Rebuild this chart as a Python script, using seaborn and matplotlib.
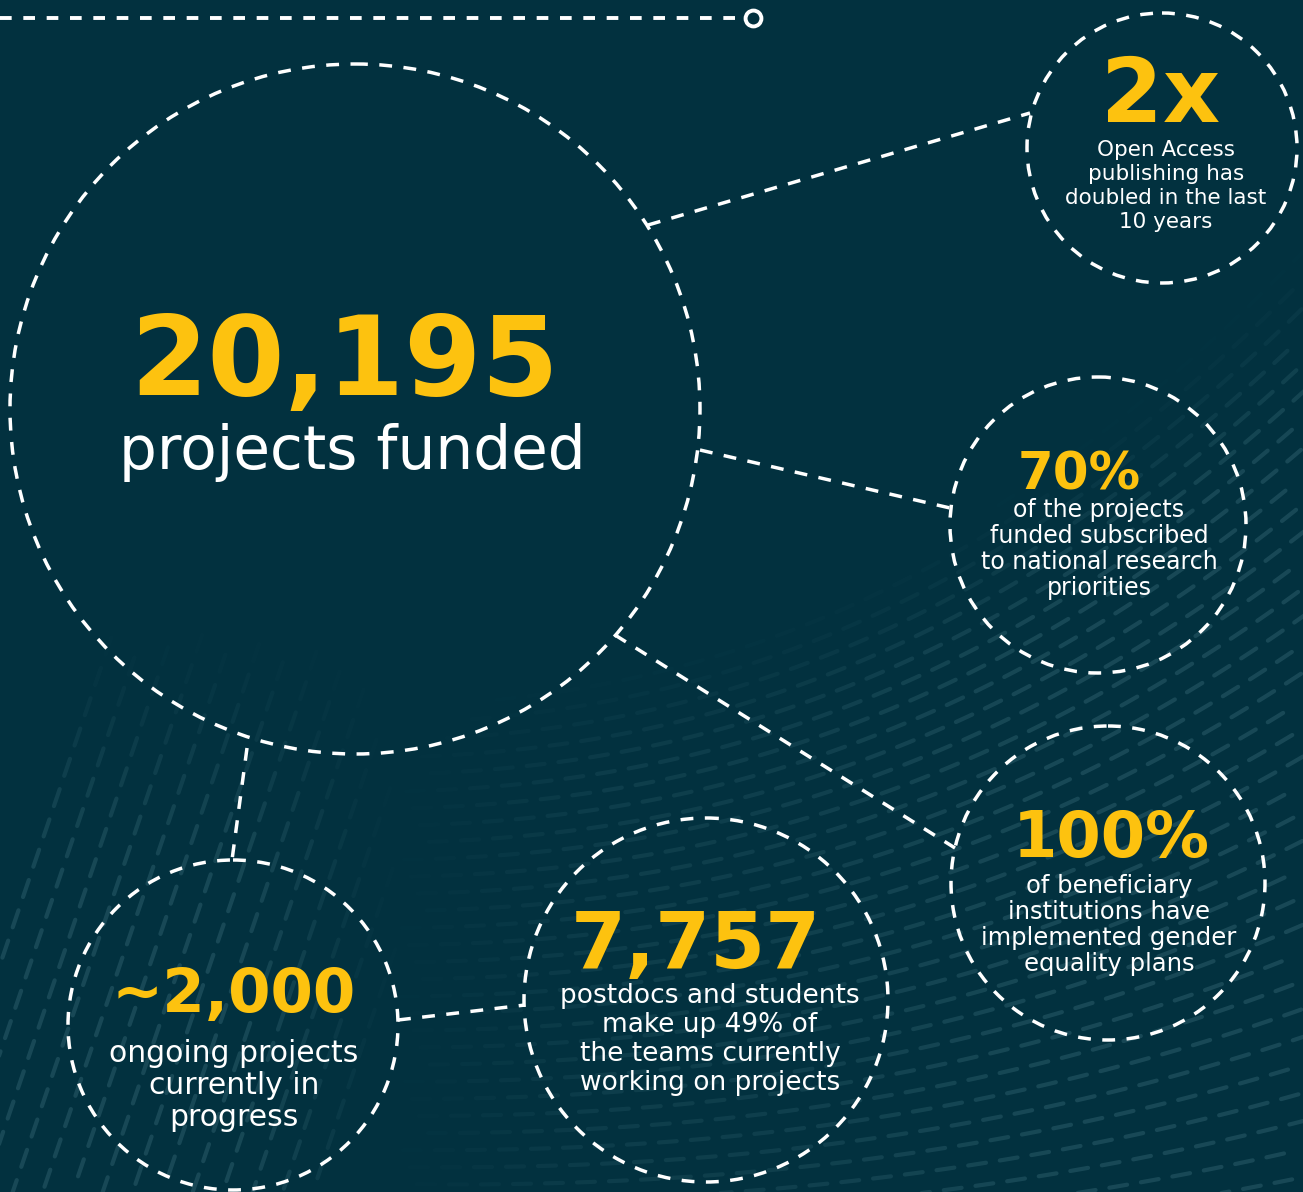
import numpy as np
import matplotlib.pyplot as plt
import seaborn as sns
from matplotlib.patches import Circle
from matplotlib.collections import LineCollection

# --- stats shown in the bubbles ---
stat_values = ["20,195", "2x", "70%", "100%", "7,757", "~2,000"]
stat_captions = [
    ["projects funded"],
    ["Open Access", "publishing has", "doubled in the last", "10 years"],
    ["of the projects", "funded subscribed", "to national research", "priorities"],
    ["of beneficiary", "institutions have", "implemented gender", "equality plans"],
    ["postdocs and students", "make up 49% of", "the teams currently", "working on projects"],
    ["ongoing projects", "currently in", "progress"],
]

# layout (pixel space): circle centre x, y, radius
circ_x = [355, 1162, 1098, 1108, 706, 233]
circ_y = [409, 148, 525, 883, 1000, 1025]
circ_r = [345, 135, 148, 157, 182, 165]
# value text: x, baseline y, size ; caption: x, first y, step, size
val_pos = [(345, 395, 80), (1161, 122, 64), (1079, 490, 37), (1111, 857, 46), (696, 968, 57), (234, 1012, 44)]
cap_pos = [(352, 453, 0, 43), (1166, 150, 24, 15.5), (1099, 510, 26, 17), (1109, 886, 26, 17.5),
           (710, 996, 29, 19), (234, 1053, 32, 21.5)]

# connectors between bubbles
links = [((648, 225), (1030, 113)), ((700, 450), (950, 508)), ((615, 635), (955, 848)),
         ((247, 748), (232, 860)), ((398, 1020), (525, 1005))]

BG = "#02313f"
YEL = "#fdc20f"
DASH = (0, (3.7, 3.3))

sns.set_theme(style="white", rc={"axes.facecolor": BG, "figure.facecolor": BG})
plt.rcParams['font.family'] = ['DejaVu Sans']

fig = plt.figure(figsize=(13.03, 11.92), dpi=100)
ax = fig.add_axes([0, 0, 1, 1])
ax.set_xlim(0, 1303)
ax.set_ylim(1192, 0)
ax.axis("off")
fig.patch.set_facecolor(BG)


def smooth(v):
    v = np.clip(v, 0, 1)
    return v * v * (3 - 2 * v)


def streak(xs, ys, fade, phase=0.0, dash=18, gap=14):
    # chop a polyline into short dashes, each with its own faint alpha
    d = np.r_[0, np.cumsum(np.hypot(np.diff(xs), np.diff(ys)))]
    segs, alphas = [], []
    s = phase
    while s + dash < d[-1]:
        t = np.linspace(s, s + dash, 4)
        px, py = np.interp(t, d, xs), np.interp(t, d, ys)
        a = fade(px.mean(), py.mean())
        if a > 0.02:
            segs.append(np.c_[px, py])
            alphas.append(a)
        s += dash + gap
    cols = [(0.2, 0.4, 0.45, 0.45 * a) for a in alphas]
    ax.add_collection(LineCollection(segs, colors=cols, linewidths=3, capstyle="round", zorder=0))


# faint flowing streaks, lower right
n_lines = 34
for k in range(n_lines):
    xs = np.linspace(330, 1310, 300)
    u = (xs - 330) / 980
    bend = 1.5 - 1.2 * k / n_lines
    ys = 690 + k * 17 - 980 * bend * (u ** 2.3) / 3.3 + 25 * u * (k / n_lines)
    kk = k

    def fade(x, y, kk=kk):
        return smooth((x - 360) / 300) * smooth((kk + 1) / 8) * (0.55 + 0.45 * smooth((x - 700) / 400))

    streak(xs, ys, fade, phase=(k * 7) % 30)

# faint steep streaks, lower left
for k in range(14):
    ys = np.linspace(1200, 560, 200)
    xs = -80 + k * 30 + (1200 - ys) * 0.34

    def fade2(x, y):
        return smooth((y - 600) / 300) * smooth((420 - x) / 200)

    streak(xs, ys, fade2, phase=(k * 11) % 30)

# top dashed rule with end ring
ax.plot([0, 745], [18, 18], color="white", lw=2.8, ls=(0, (3, 3)), zorder=2)
sns.scatterplot(x=[753], y=[18], s=130, facecolor=BG, edgecolor="white", linewidth=2.8, ax=ax, zorder=3)

for (p0, p1) in links:
    ax.plot([p0[0], p1[0]], [p0[1], p1[1]], color="white", lw=2.5, ls=DASH, zorder=2)

for i in range(len(stat_values)):
    c = Circle((circ_x[i], circ_y[i]), circ_r[i], fill=False, ec="white", lw=2.5, ls=DASH, zorder=2)
    ax.add_patch(c)
    vx, vy, vs = val_pos[i]
    ax.text(vx, vy, stat_values[i], color=YEL, fontsize=vs, fontweight="bold",
            ha="center", va="baseline", zorder=4)
    cx, cy, step, cs = cap_pos[i]
    for j, line in enumerate(stat_captions[i]):
        ax.text(cx, cy + j * step, line, color="white", fontsize=cs,
                ha="center", va="center", zorder=4)

fig.savefig("out.png", dpi=100, facecolor=BG)
